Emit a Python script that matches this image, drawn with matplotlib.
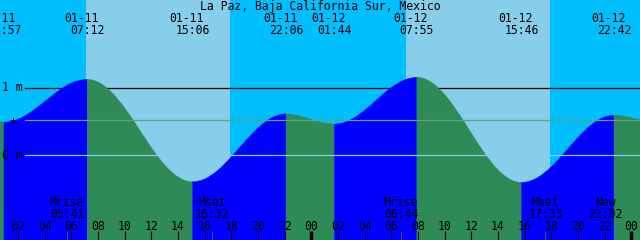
import matplotlib
matplotlib.use('Agg')
import numpy as np
import matplotlib.pyplot as plt
from matplotlib import transforms
from matplotlib.path import Path
from matplotlib.patches import PathPatch

title = 'La Paz, Baja California Sur, Mexico'

# water level (m), hours from 01-11 00:00
hours = list(range(0, 50))
level = [0.51, 0.49, 0.533, 0.643, 0.793, 0.946, 1.065, 1.118,
         1.082, 0.935, 0.698, 0.410, 0.115, -0.142, -0.319, -0.39,
         -0.350, -0.219, -0.023, 0.199, 0.404, 0.550, 0.61,
         0.588, 0.530, 0.475,
         0.463, 0.529, 0.664, 0.836, 0.999, 1.113,
         1.15, 1.078, 0.896, 0.632, 0.326, 0.029, -0.215, -0.364,
         -0.397, -0.325, -0.168, 0.043, 0.263, 0.450, 0.565,
         0.588, 0.555, 0.505]

# highs and lows
ext_dates = ['01-11', '01-11', '01-11', '01-11', '01-12', '01-12', '01-12', '01-12']
ext_times = ['00:57', '07:12', '15:06', '22:06', '01:44', '07:55', '15:46', '22:42']
ext_level = [0.49, 1.12, -0.39, 0.61, 0.46, 1.15, -0.40, 0.59]

# daylight
sun_dates = ['01-11', '01-12']
sunrise = ['07:06', '07:06']
sunset = ['17:55', '17:54']

# moon
moon_names = ['Mrise', 'Mset', 'Mrise', 'Mset', 'New']
moon_dates = ['01-11', '01-11', '01-12', '01-12', '01-12']
moon_times = ['05:41', '16:32', '06:44', '17:33', '22:02']

mean_level = 0.52
depth_marks = [1, 0]
hour_ticks = list(range(2, 50, 2))


def to_hours(date, hm):
    day = int(date.split('-')[1]) - 11
    h, m = hm.split(':')
    return day * 24 + int(h) + int(m) / 60


ext_hours = [to_hours(d, t) for d, t in zip(ext_dates, ext_times)]
moon_hours = [to_hours(d, t) for d, t in zip(moon_dates, moon_times)]

t_all = np.array(hours + ext_hours, dtype=float)
h_all = np.array(level + ext_level, dtype=float)
order = np.argsort(t_all)
t_all, h_all = t_all[order], h_all[order]
is_ext = np.isin(t_all, ext_hours)

# slopes for a smooth bezier path: flat at highs/lows
slope = np.gradient(h_all, t_all)
slope[is_ext] = 0.0

BOTTOM = -1.3


def tide_patch(i0, i1, color):
    verts = [(t_all[i0], h_all[i0])]
    codes = [Path.MOVETO]
    for i in range(i0, i1):
        dt = (t_all[i + 1] - t_all[i]) / 3
        verts += [(t_all[i] + dt, h_all[i] + dt * slope[i]),
                  (t_all[i + 1] - dt, h_all[i + 1] - dt * slope[i + 1]),
                  (t_all[i + 1], h_all[i + 1])]
        codes += [Path.CURVE4] * 3
    verts += [(t_all[i1], BOTTOM), (t_all[i0], BOTTOM), (t_all[i0], h_all[i0])]
    codes += [Path.LINETO, Path.LINETO, Path.CLOSEPOLY]
    return PathPatch(Path(verts, codes), facecolor=color, edgecolor=color,
                     lw=0.3, zorder=2)


fig = plt.figure(figsize=(6.4, 2.4), dpi=100)
ax = fig.add_axes([0, 0, 1, 1])
ax.set_xlim(0.65, 48.65)
ax.set_ylim(-1.249, 2.291)
ax.axis('off')
fig.patch.set_facecolor('#00bfff')
ax.add_patch(plt.Rectangle((0, 0), 1, 1, transform=ax.transAxes,
                           color='#00bfff', zorder=0))

# x in hours, y in pixels from the top
top_px = transforms.Affine2D().scale(1 / 640, -1 / 240).translate(0, 1) + fig.transFigure
bt = transforms.blended_transform_factory(ax.transData, top_px)

for d, a, b in zip(sun_dates, sunrise, sunset):
    ax.axvspan(to_hours(d, a), to_hours(d, b), color='#87ceeb', lw=0, zorder=0.5)

ax.axhline(1, xmin=25 / 640, color='black', lw=0.9, zorder=1)

# tide, blue while rising and green while falling
idx = [0] + list(np.where(is_ext)[0]) + [len(t_all) - 1]
for i0, i1 in zip(idx[:-1], idx[1:]):
    col = '#0000ff' if h_all[i1] > h_all[i0] else '#2e8b57'
    ax.add_patch(tide_patch(i0, i1, col))

ax.axhline(0, xmin=25 / 640, color='#87ceeb', lw=0.9, zorder=3)
ax.axhline(mean_level, xmin=25 / 640, color='#5fa37f', lw=0.9, zorder=3)

font = dict(family='DejaVu Sans Mono', size=8.3, color='black', zorder=5)
for lv in depth_marks:
    y = 155.3 - 67.8 * lv
    fig.text(2 / 640, 1 - y / 240, f'{lv} m', va='center', ha='left', **font)
fig.text(13 / 640, 1 - 121.5 / 240, '+', va='center', ha='center', **font)

fig.text(0.5, 1 - 10 / 240, title, ha='center', va='baseline', **font)
for th, d, tm in zip(ext_hours, ext_dates, ext_times):
    ax.text(th - 0.45, 22, d, transform=bt, ha='center', va='baseline', **font)
    ax.text(th, 34, tm, transform=bt, ha='center', va='baseline', **font)

for th, nm, tm in zip(moon_hours, moon_names, moon_times):
    ax.text(th, 206, nm, transform=bt, ha='center', va='baseline', **font)
    ax.text(th, 218, tm, transform=bt, ha='center', va='baseline', **font)
ax.vlines(moon_hours, 231, 240, transform=bt, color='#505050', lw=0.7, zorder=4)

for hr in hour_ticks:
    ax.text(hr, 230, f'{hr % 24:02d}', transform=bt, ha='center', va='baseline', **font)
    lw = 2.5 if hr % 24 == 0 else 0.8
    ax.vlines(hr, 231, 240, transform=bt, color='black', lw=lw, zorder=4)

fig.savefig('out.png', dpi=100)
